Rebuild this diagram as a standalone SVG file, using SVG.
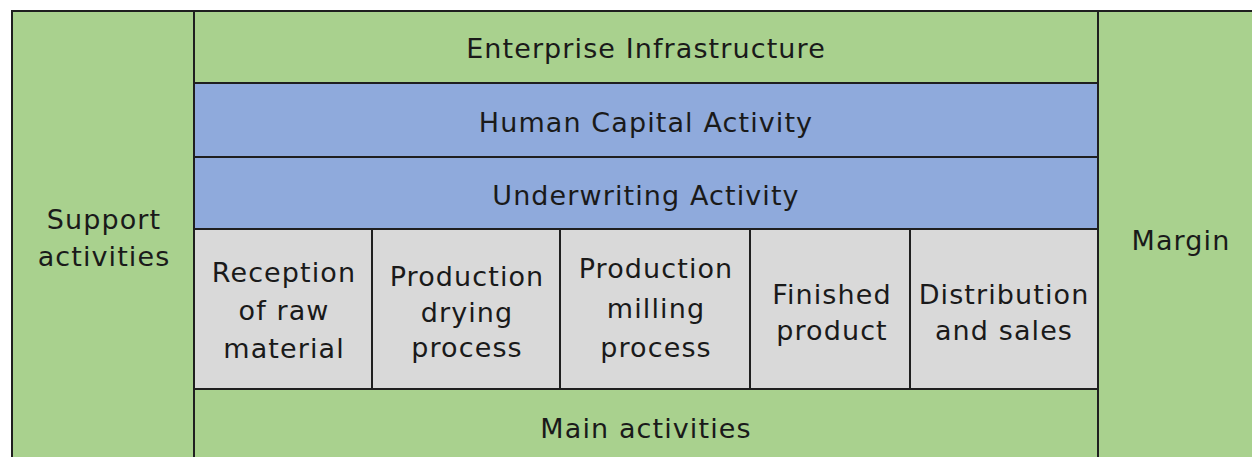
<svg xmlns="http://www.w3.org/2000/svg" width="1252" height="457" viewBox="0 0 1252 457">
<style>
.g{fill:#A9D18E;stroke:#1f1f1f;stroke-width:2}
.b{fill:#8FAADC;stroke:#1f1f1f;stroke-width:2}
.y{fill:#D9D9D9;stroke:#1f1f1f;stroke-width:2}
text{font-family:"DejaVu Sans","Verdana",sans-serif;font-size:27px;fill:#1a1a1a;text-anchor:middle;letter-spacing:1.1px}
</style>
<rect x="0" y="0" width="1252" height="457" fill="#ffffff"/>
<g id="support">
<rect class="g" x="12" y="11" width="182" height="460"/>
<text x="104" y="229">Support</text>
<text x="104" y="266">activities</text>
</g>
<g id="margin">
<rect class="g" x="1098" y="11" width="170" height="460"/>
<text x="1181" y="250">Margin</text>
</g>
<g id="enterprise">
<rect class="g" x="194" y="11" width="904" height="72"/>
<text x="646" y="58">Enterprise Infrastructure</text>
</g>
<g id="human">
<rect class="b" x="194" y="83" width="904" height="74"/>
<text x="646" y="132">Human Capital Activity</text>
</g>
<g id="underwriting">
<rect class="b" x="194" y="157" width="904" height="72"/>
<text x="646" y="205">Underwriting Activity</text>
</g>
<g id="reception">
<rect class="y" x="194" y="229" width="178" height="160"/>
<text x="284" y="282">Reception</text>
<text x="284" y="320">of raw</text>
<text x="284" y="358">material</text>
</g>
<g id="drying">
<rect class="y" x="372" y="229" width="188" height="160"/>
<text x="467" y="286">Production</text>
<text x="467" y="322">drying</text>
<text x="467" y="357">process</text>
</g>
<g id="milling">
<rect class="y" x="560" y="229" width="190" height="160"/>
<text x="656" y="278">Production</text>
<text x="656" y="318">milling</text>
<text x="656" y="357">process</text>
</g>
<g id="finished">
<rect class="y" x="750" y="229" width="160" height="160"/>
<text x="832" y="304">Finished</text>
<text x="832" y="340">product</text>
</g>
<g id="distribution">
<rect class="y" x="910" y="229" width="188" height="160"/>
<text x="1004" y="304">Distribution</text>
<text x="1004" y="340">and sales</text>
</g>
<g id="main">
<rect class="g" x="194" y="389" width="904" height="82"/>
<text x="646" y="438">Main activities</text>
</g>
<g id="connectors"></g>
</svg>
